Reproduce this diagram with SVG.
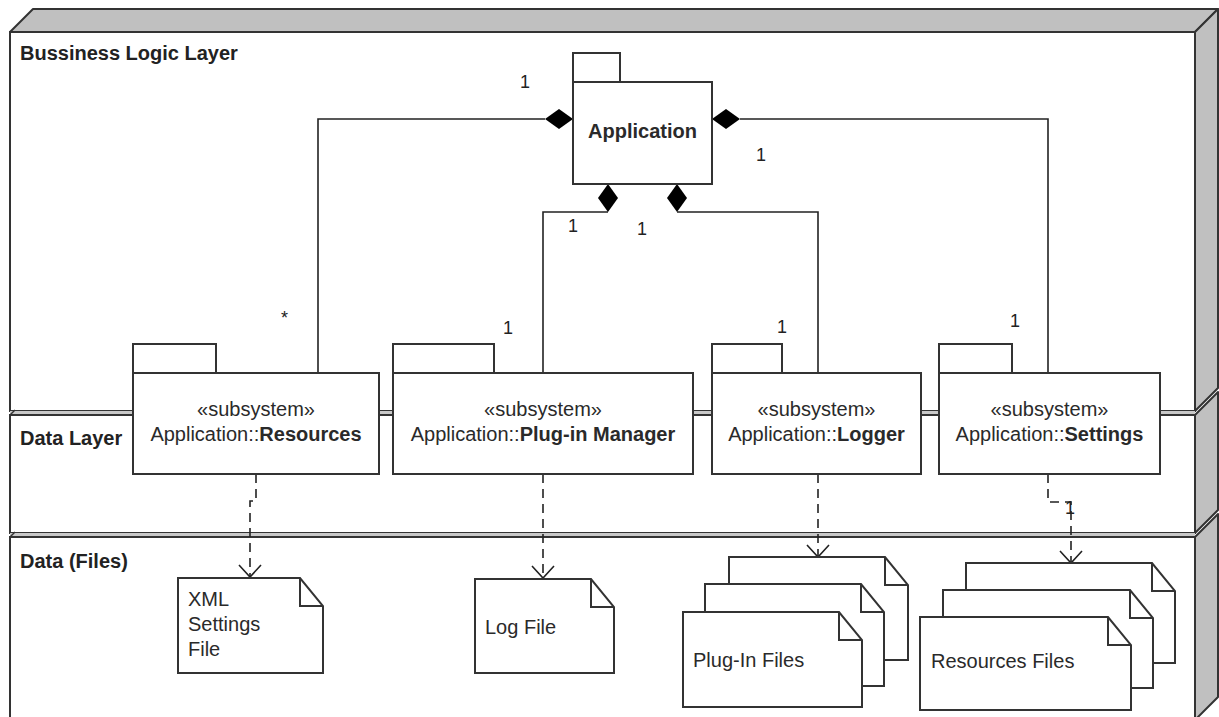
<svg xmlns="http://www.w3.org/2000/svg" width="1219" height="717" viewBox="0 0 1219 717">
  <style>
    .face { fill: #ffffff; stroke: #333; stroke-width: 2; }
    .side { fill: #c0c0c0; stroke: #333; stroke-width: 2; stroke-linejoin: round; }
    .layer { font-family: "Liberation Sans", Arial, sans-serif; font-size: 20px; font-weight: bold; fill: #222; }
    .pkg { fill: #ffffff; stroke: #333; stroke-width: 2; }
    .txt { font-family: "Liberation Sans", Arial, sans-serif; font-size: 20px; fill: #2a2a2a; }
    .b { font-weight: bold; }
    .mult { font-family: "Liberation Sans", Arial, sans-serif; font-size: 18px; fill: #222; }
    .assoc { fill: none; stroke: #222; stroke-width: 1.6; }
    .dep { fill: none; stroke: #222; stroke-width: 1.6; stroke-dasharray: 9 6; }
    .dia { fill: #000; }
    .note { fill: #ffffff; stroke: #333; stroke-width: 2; stroke-linejoin: miter; }
    .fold { fill: none; stroke: #333; stroke-width: 2; }
  </style>
  <defs>
    <marker id="open" markerWidth="24" markerHeight="16" refX="12" refY="13" orient="0" markerUnits="userSpaceOnUse">
      <path d="M1,1 L12,13 L23,1" fill="none" stroke="#222" stroke-width="1.6"/>
    </marker>
  </defs>

  <rect width="1219" height="717" fill="#ffffff"/>

  <!-- Layer frames (3D boxes) -->
  <g id="layer-business">
    <polygon class="side" points="10,32 33,9 1218,9 1195,32"/>
    <polygon class="side" points="1195,32 1218,9 1218,388 1195,411"/>
    <rect class="face" x="10" y="32" width="1185" height="379"/>
    <text class="layer" x="20" y="60">Bussiness Logic Layer</text>
  </g>
  <g id="layer-data">
    <polygon class="side" points="1195,415 1218,392 1218,510 1195,533"/>
    <rect x="10" y="411" width="1185" height="4" fill="#c8c8c8"/>
    <rect class="face" x="10" y="415" width="1185" height="118"/>
    <line x1="10" y1="415" x2="15" y2="410" stroke="#333" stroke-width="1.5"/>
    <text class="layer" x="20" y="445">Data Layer</text>
  </g>
  <g id="layer-files">
    <polygon class="side" points="1195,537 1218,514 1218,697 1195,720"/>
    <rect x="10" y="533" width="1185" height="4" fill="#c8c8c8"/>
    <rect class="face" x="10" y="537" width="1185" height="190"/>
    <line x1="10" y1="537" x2="15" y2="532" stroke="#333" stroke-width="1.5"/>
    <text class="layer" x="20" y="568">Data (Files)</text>
  </g>

  <!-- Connectors -->
  <g id="connectors">
    <path class="assoc" d="M545,119 H318 V373"/>
    <path class="assoc" d="M740,119 H1048 V373"/>
    <path class="assoc" d="M608,212 H543 V373"/>
    <path class="assoc" d="M677,212 H818 V373"/>
    <polygon class="dia" points="545,119 559,109 573,119 559,129"/>
    <polygon class="dia" points="712,119 726,109 740,119 726,129"/>
    <polygon class="dia" points="608,184 618,198 608,212 598,198"/>
    <polygon class="dia" points="677,184 687,198 677,212 667,198"/>

    <path class="dep" d="M256,474 V501 H250 V577" marker-end="url(#open)"/>
    <path class="dep" d="M543,474 V578" marker-end="url(#open)"/>
    <path class="dep" d="M818,474 V557" marker-end="url(#open)"/>
    <path class="dep" d="M1048,474 V502 H1071 V563" marker-end="url(#open)"/>

    <text class="mult" x="520" y="88">1</text>
    <text class="mult" x="756" y="161">1</text>
    <text class="mult" x="568" y="232">1</text>
    <text class="mult" x="637" y="235">1</text>
    <text class="mult" x="281" y="324" font-size="12">*</text>
    <text class="mult" x="503" y="334">1</text>
    <text class="mult" x="777" y="333">1</text>
    <text class="mult" x="1010" y="327">1</text>
    <text class="mult" x="1065" y="514">1</text>
  </g>

  <!-- Application package -->
  <g id="application">
    <rect class="pkg" x="573" y="53" width="47" height="29"/>
    <rect class="pkg" x="573" y="82" width="139" height="102"/>
    <text class="txt b" x="642.5" y="138" text-anchor="middle" fill="#222">Application</text>
  </g>

  <!-- Subsystems -->
  <g id="resources">
    <rect class="pkg" x="133" y="344" width="83" height="29"/>
    <rect class="pkg" x="133" y="373" width="246" height="101"/>
    <text class="txt" x="256" y="416" text-anchor="middle">«subsystem»</text>
    <text class="txt" x="256" y="441" text-anchor="middle">Application::<tspan class="b">Resources</tspan></text>
  </g>
  <g id="plugin-manager">
    <rect class="pkg" x="393" y="344" width="101" height="29"/>
    <rect class="pkg" x="393" y="373" width="300" height="101"/>
    <text class="txt" x="543" y="416" text-anchor="middle">«subsystem»</text>
    <text class="txt" x="543" y="441" text-anchor="middle">Application::<tspan class="b">Plug-in Manager</tspan></text>
  </g>
  <g id="logger">
    <rect class="pkg" x="712" y="344" width="70" height="29"/>
    <rect class="pkg" x="712" y="373" width="209" height="101"/>
    <text class="txt" x="816.5" y="416" text-anchor="middle">«subsystem»</text>
    <text class="txt" x="816.5" y="441" text-anchor="middle">Application::<tspan class="b">Logger</tspan></text>
  </g>
  <g id="settings">
    <rect class="pkg" x="939" y="344" width="73" height="29"/>
    <rect class="pkg" x="939" y="373" width="221" height="101"/>
    <text class="txt" x="1049.5" y="416" text-anchor="middle">«subsystem»</text>
    <text class="txt" x="1049.5" y="441" text-anchor="middle">Application::<tspan class="b">Settings</tspan></text>
  </g>

  <!-- Files -->
  <g id="xml-settings-file">
    <path class="note" d="M178,578 H300 L323,606 V673 H178 Z"/>
    <path class="fold" d="M300,578 V606 H323"/>
    <text class="txt" x="188" y="606">XML</text>
    <text class="txt" x="188" y="631">Settings</text>
    <text class="txt" x="188" y="656">File</text>
  </g>
  <g id="log-file">
    <path class="note" d="M475,579 H591 L614,607 V673 H475 Z"/>
    <path class="fold" d="M591,579 V607 H614"/>
    <text class="txt" x="485" y="634">Log File</text>
  </g>
  <g id="plugin-files">
    <path class="note" d="M729,557 H885 L908,585 V660 H729 Z"/>
    <path class="fold" d="M885,557 V585 H908"/>
    <path class="note" d="M705,584 H861 L884,612 V686 H705 Z"/>
    <path class="fold" d="M861,584 V612 H884"/>
    <path class="note" d="M683,612 H839 L862,640 V707 H683 Z"/>
    <path class="fold" d="M839,612 V640 H862"/>
    <text class="txt" x="693" y="667">Plug-In Files</text>
  </g>
  <g id="resources-files">
    <path class="note" d="M966,563 H1152 L1175,591 V663 H966 Z"/>
    <path class="fold" d="M1152,563 V591 H1175"/>
    <path class="note" d="M943,590 H1130 L1153,618 V688 H943 Z"/>
    <path class="fold" d="M1130,590 V618 H1153"/>
    <path class="note" d="M920,617 H1108 L1131,645 V710 H920 Z"/>
    <path class="fold" d="M1108,617 V645 H1131"/>
    <text class="txt" x="931" y="668">Resources Files</text>
  </g>
</svg>
